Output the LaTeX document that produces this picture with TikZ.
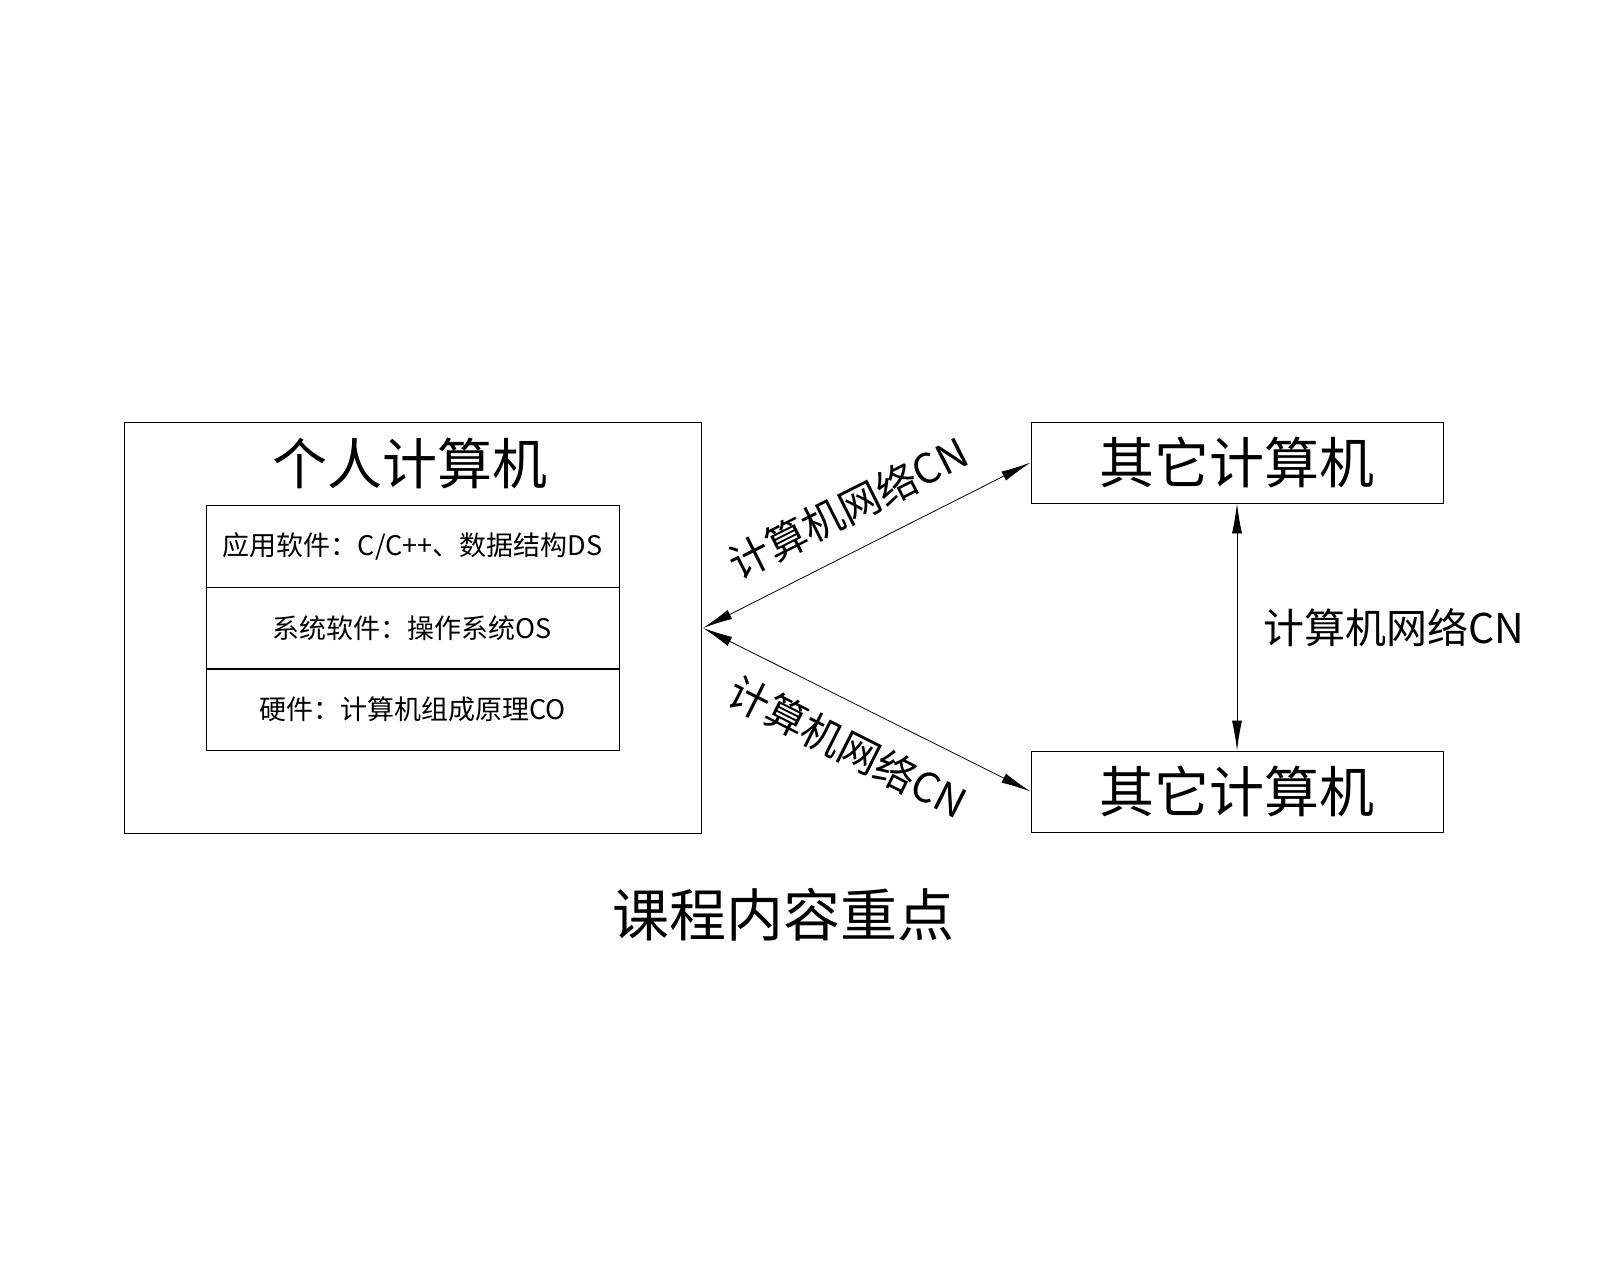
\documentclass[tikz,border=0pt]{standalone}
\usepackage{fontspec}
\newfontfamily\cjk{Noto Sans CJK SC}
\usetikzlibrary{arrows.meta}
\begin{document}
\begin{tikzpicture}[x=1pt,y=-1pt,
  box/.style={draw,thick,minimum width=412pt,minimum height=81pt,inner sep=0pt},
  inbox/.style={draw,thick,minimum width=413pt,minimum height=82pt,inner sep=0pt,font=\cjk\fontsize{27}{30}\selectfont},
  conn/.style={thick,{Latex[length=30pt,width=10pt]}-{Latex[length=30pt,width=10pt]}},
  big/.style={font=\cjk\fontsize{55}{60}\selectfont},
  lab/.style={font=\cjk\fontsize{41}{44}\selectfont}]
\useasboundingbox (0,0) rectangle (1600,1280);
\node[draw,thick,minimum width=577pt,minimum height=411pt,inner sep=0pt] (pc) at (412.5,627.5) {};
\node[big] (t) at (410,463) {个人计算机};
\node[inbox] (a) at (412.5,546) {应用软件：C/C++、数据结构DS};
\node[inbox] (b) at (412.5,628) {系统软件：操作系统OS};
\node[inbox] (c) at (412.5,709) {硬件：计算机组成原理CO};
\node[box,big] (o1) at (1237,462.5) {其它计算机};
\node[box,big] (o2) at (1237,791.5) {其它计算机};
\coordinate (p) at (703,628);
\draw[conn] (p) -- (o1.west);
\draw[conn] (p) -- (o2.west);
\draw[conn] (o1.south) -- (o2.north);
\node[lab,rotate=26.7] (l1) at (848,508) {计算机网络CN};
\node[lab,rotate=-26.7] (l2) at (848,747) {计算机网络CN};
\node[lab,anchor=west] (l3) at (1260,628) {计算机网络CN};
\node[font=\cjk\fontsize{57}{62}\selectfont] (cap) at (783,915) {课程内容重点};
\end{tikzpicture}
\end{document}
